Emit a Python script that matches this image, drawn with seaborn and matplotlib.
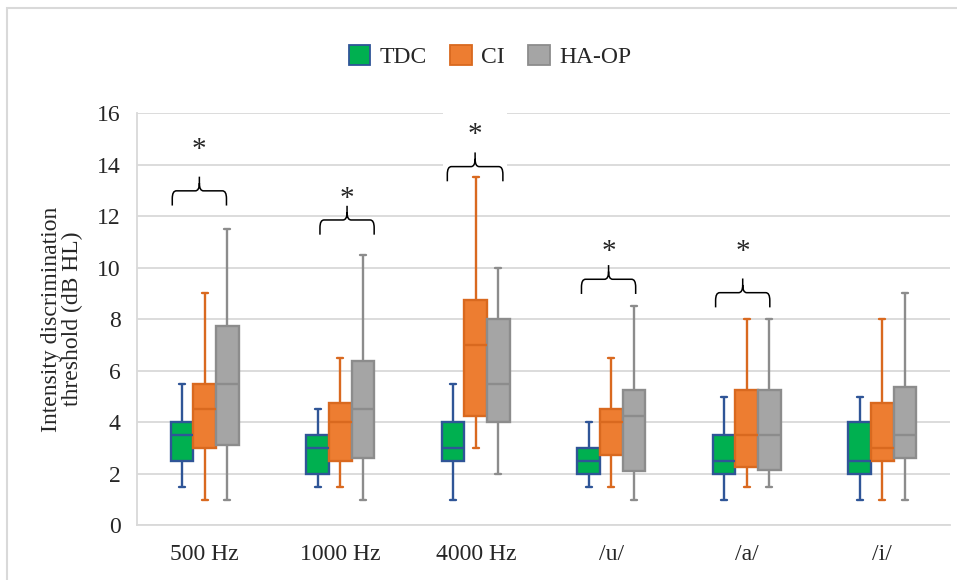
import pandas as pd
import seaborn as sns
import matplotlib.pyplot as plt
from matplotlib.path import Path
from matplotlib.patches import PathPatch, Rectangle, Patch

## data ##
conditions = ["500 Hz", "1000 Hz", "4000 Hz", "/u/", "/a/", "/i/"]
groups = ["TDC", "CI", "HA-OP"]

# five-number summaries per condition: (min, q1, median, q3, max)
tdc_stats = [(1.5, 2.5, 3.5, 4.0, 5.5),
             (1.5, 2.0, 3.0, 3.5, 4.5),
             (1.0, 2.5, 3.0, 4.0, 5.5),
             (1.5, 2.0, 2.5, 3.0, 4.0),
             (1.0, 2.0, 2.5, 3.5, 5.0),
             (1.0, 2.0, 2.5, 4.0, 5.0)]
ci_stats = [(1.0, 3.0, 4.5, 5.5, 9.0),
            (1.5, 2.5, 4.0, 4.75, 6.5),
            (3.0, 4.25, 7.0, 8.75, 13.5),
            (1.5, 2.75, 4.0, 4.5, 6.5),
            (1.5, 2.25, 3.5, 5.25, 8.0),
            (1.0, 2.5, 3.0, 4.75, 8.0)]
haop_stats = [(1.0, 3.13, 5.5, 7.75, 11.5),
              (1.0, 2.6, 4.5, 6.38, 10.5),
              (2.0, 4.0, 5.5, 8.0, 10.0),
              (1.0, 2.13, 4.25, 5.25, 8.5),
              (1.5, 2.15, 3.5, 5.25, 8.0),
              (1.0, 2.62, 3.5, 5.37, 9.0)]

# significance braces (condition index, left/right offset, base height, star height)
sig_idx = [0, 1, 2, 3, 4]
brace_left = [-0.24, -0.15, -0.21, -0.22, -0.23]
brace_right = [0.16, 0.25, 0.20, 0.18, 0.17]
brace_base = [12.41, 11.28, 13.35, 8.98, 8.46]
star_y = [14.55, 12.65, 15.15, 10.6, 10.6]

fills = {"TDC": "#00B050", "CI": "#ED7D31", "HA-OP": "#A5A5A5"}
edges = {"TDC": "#2F5597", "CI": "#D9691F", "HA-OP": "#8C8C8C"}

# long-form table built from the summaries
rows = []
for g, st in zip(groups, [tdc_stats, ci_stats, haop_stats]):
    for cond, five in zip(conditions, st):
        for v in five:
            rows.append({"condition": cond, "group": g, "value": v})
df = pd.DataFrame(rows)

## plot ##
sns.set_style("white")
plt.rcParams["font.family"] = ["Liberation Serif", "DejaVu Serif"]
fs = 17

fig = plt.figure(figsize=(9.57, 5.8), dpi=100)
ax = fig.add_axes([0.1432, 0.094, 0.8495, 0.7112])

for g in groups:
    sns.boxplot(data=df[df.group == g], x="condition", y="value",
                hue="group", hue_order=groups, order=conditions,
                palette=fills, linecolor=edges[g], linewidth=1.7,
                width=0.5, gap=0, whis=(0, 100), saturation=1,
                dodge=True, legend=False, capwidths=0.045, ax=ax)

ax.set_ylim(0, 16)
ax.set_xlim(-0.5, 5.5)
ax.set_yticks(range(0, 17, 2))
ax.yaxis.grid(True, color="#D9D9D9", lw=1.3)
ax.set_axisbelow(True)
for s in ["top", "right"]:
    ax.spines[s].set_visible(False)
for s in ["left", "bottom"]:
    ax.spines[s].set_color("#D9D9D9")
    ax.spines[s].set_linewidth(1.3)
ax.tick_params(axis="y", length=0, pad=12, labelsize=fs)
ax.tick_params(axis="x", length=0, pad=13, labelsize=fs)
ax.set_xlabel("")
ax.set_ylabel("Intensity discrimination\nthreshold (dB HL)", fontsize=fs,
              labelpad=10, linespacing=1.0)

# significance braces and stars
rx, ry = 0.03, 0.3
for k, i in enumerate(sig_idx):
    x0, x1 = i + brace_left[k], i + brace_right[k]
    xm = (x0 + x1) / 2
    yb = brace_base[k]
    yh = yb + 0.57
    yt = yb + 1.12
    verts = [(x0, yb), (x0, yh - ry), (x0, yh), (x0 + rx, yh),
             (xm - rx, yh), (xm, yh), (xm, yh + ry), (xm, yt),
             (xm, yh + ry), (xm, yh), (xm + rx, yh),
             (x1 - rx, yh), (x1, yh), (x1, yh - ry), (x1, yb)]
    codes = [Path.MOVETO, Path.LINETO, Path.CURVE3, Path.CURVE3,
             Path.LINETO, Path.CURVE3, Path.CURVE3, Path.LINETO,
             Path.MOVETO, Path.CURVE3, Path.CURVE3,
             Path.LINETO, Path.CURVE3, Path.CURVE3, Path.LINETO]
    ax.add_patch(PathPatch(Path(verts, codes), fill=False, ec="black",
                           lw=1.1, zorder=4, clip_on=False))
    bbox = None
    if conditions[i] == "4000 Hz":
        bbox = dict(fc="white", ec="none", boxstyle="square,pad=0.85")
    ax.text(xm, star_y[k], "*", ha="center", va="center", fontsize=21,
            zorder=3, bbox=bbox, clip_on=False)

# legend at the top
handles = [Patch(facecolor=fills[g], edgecolor=edges[g], lw=1.3, label=g)
           for g in groups]
fig.legend(handles=handles, loc="center", bbox_to_anchor=(0.512, 0.902),
           ncol=3, frameon=False, fontsize=fs, handlelength=0.9,
           handleheight=0.9, handletextpad=0.4, columnspacing=1.0)

# light outer frame
fig.patches.append(Rectangle((7 / 957, -0.05), 1.1, 1 - 8 / 580 + 0.05,
                             transform=fig.transFigure, fill=False,
                             ec="#D9D9D9", lw=1.5))

fig.savefig("out.png", dpi=100)
